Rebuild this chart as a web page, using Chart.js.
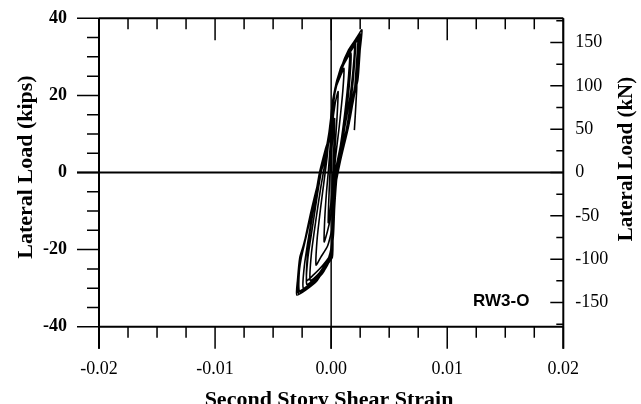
<!DOCTYPE html>
<html>
<head>
<meta charset="utf-8">
<script src="https://cdn.jsdelivr.net/npm/chart.js@4.4.1/dist/chart.umd.min.js"></script>
<style>
  html, body { margin: 0; padding: 0; background: #fff; }
  canvas { display: block; }
</style>
</head>
<body>
<canvas id="Graph" width="641" height="404"></canvas>
<script>
let canvas = document.getElementById("Graph");

// second story shear strain vs lateral load (kips)
const strain = [
  0,
  0.00005, 0.00015, 0.0003,
  0.00025, 0.00015, 0.00005, -0.0001, -0.00025,
  -0.0002, -0.0001,
  0.0, 0.0001, 0.00035, 0.0006,
  0.0005, 0.0003, 0.00015, 0.00005, -0.0003, -0.0006,
  -0.00055, -0.0004, -0.00025,
  -0.0001, 0.00005, 0.0003, 0.0008, 0.0011,
  0.001, 0.0007, 0.00035, 0.0002, 0.0001, -0.0003, -0.0009, -0.0013,
  -0.0012, -0.0009, -0.0006, -0.00035,
  -0.0001, 0.00015, 0.0006, 0.0011, 0.0016,
  0.0015, 0.0012, 0.0008, 0.00035, 0.0002, 0.0001, -0.0002, -0.001, -0.0018,
  -0.0017, -0.0013, -0.0009, -0.0005,
  -0.0002, 0.0001, 0.0005, 0.001, 0.0017,
  0.0016, 0.0013, 0.0009, 0.0005, 0.0003, 0.0002, 0.0, -0.0007, -0.0015, -0.0021,
  -0.002, -0.0016, -0.0011, -0.0006,
  -0.0001, 0.0002, 0.0009, 0.0015, 0.0021,
  0.002, 0.0018, 0.0013, 0.0006, 0.00025, 0.00015, 0.0001, -0.0005, -0.0015, -0.0024,
  -0.0023, -0.0019, -0.0014, -0.001, -0.0005,
  -0.0002, 0.0001, 0.0006, 0.0013, 0.002,
  0.0019, 0.0016, 0.001, 0.0004, 0.0002, 0.0001, -0.0003, -0.0012, -0.0021,
  -0.002, -0.0016, -0.0012, -0.0008, -0.0003,
  -0.0001, 0.0002, 0.0009, 0.0015, 0.0021, 0.00265,
  0.0025, 0.0023, 0.0019, 0.00135, 0.0005, 0.0002, 0.00015, 0.0001, -0.0005, -0.0012, -0.0022, -0.00296,
  -0.0029, -0.0027, -0.0024, -0.0017, -0.0011, -0.0008, -0.0001, 0.0002,
  0.0005, 0.0012, 0.0018, 0.0025,
  0.0024, 0.0022, 0.0017, 0.0011, 0.0004, 0.00015, 0.0001, -0.0002, -0.0009, -0.0019, -0.0028,
  -0.00285, -0.0026, -0.0021, -0.0015, -0.001, -0.0005, -0.0001, 0.0002,
  0.0008, 0.0016, 0.0024,
  0.00235, 0.0021, 0.0016, 0.0009, 0.00035, 0.0002, 0.00005, -0.0006, -0.0016, -0.0027,
  -0.00275, -0.0025, -0.0019, -0.0013, -0.0007, -0.0002, 0.0001, 0.0004, 0.0011, 0.0019, 0.0023,
  0.0022, 0.002, 0.0015, 0.0008, 0.0003, 0.00015, 0.0, -0.0004, -0.0013, -0.0023, -0.0029,
  -0.0028, -0.0023, -0.0018, -0.0012, -0.0006, -0.0002, 0.0001, 0.0005, 0.0012, 0.0018, 0.0024,
  0.00225, 0.0022, 0.002
];
const loadKips = [
  0,
  5, 10, 14,
  8, 0, -6, -10, -13,
  -7, 0,
  5, 12, 18, 21,
  14, 5, -3, -10, -15, -18,
  -12, -5, 0,
  6, 14, 21, 25, 27,
  21, 12, 3, -5, -14, -19, -22, -24,
  -17, -9, -2, 4,
  12, 19, 25, 29, 31.5,
  25, 16, 7, 0, -8, -17, -22, -26, -28,
  -21, -12, -4, 3,
  10, 17, 23, 27.5, 31,
  24, 15, 6, -1, -9, -16, -21, -24, -26.5, -28,
  -20, -11, -3, 4,
  11, 19, 27, 31, 34,
  28, 21, 11, 2, -6, -15, -21, -25, -28.5, -30,
  -24, -16, -7, 0, 6,
  9, 17, 24, 29.5, 33,
  27, 19, 9, 0, -9, -18, -23, -27, -29,
  -22, -14, -6, 1, 7,
  11, 19, 27.5, 31.8, 34.5, 37,
  32, 24, 19, 10, 1.5, -6, -15, -22, -24.5, -28, -30.5, -31.8,
  -28, -22, -19, -10.6, -2, 1.5, 10, 19,
  24, 29.5, 33, 36,
  31, 25, 17, 8, 0, -8, -18, -23, -26.5, -29.5, -31.5,
  -27, -22.5, -16, -8, -1, 5, 12, 19,
  27, 31.5, 35.5,
  30, 22, 14, 5, -2, -10, -20, -25.5, -29, -31,
  -26, -21, -13, -5, 2, 8, 15, 22, 28.5, 32.5, 34.5,
  29, 21, 12, 3, -5, -13, -21, -24, -27.5, -30, -31,
  -25, -18, -11, -3.5, 3, 9, 16, 23.5, 29, 32, 35,
  28, 21.4, 11
];

const xTicks = [-0.02, -0.01, 0, 0.01, 0.02];
const kipsTicks = [-40, -20, 0, 20, 40];
const kNTicks = [-150, -100, -50, 0, 50, 100, 150];
const kipsToKN = 4.448;
const specimen = "RW3-O";

const serif = "'Liberation Serif', 'Times New Roman', serif";

// frame, tick marks, zero lines and axis titles the way the old plot has them
const frame = {
  id: 'frame',
  beforeDatasetsDraw(chart) {
    const ctx = chart.ctx;
    const a = chart.chartArea;
    const x = chart.scales.x, y = chart.scales.y, y2 = chart.scales.y2;
    ctx.save();
    ctx.strokeStyle = '#000';
    ctx.lineWidth = 1.5;
    ctx.beginPath();
    // top and bottom x ticks, every 0.0025
    for (let k = -8; k <= 8; k++) {
      const px = x.getPixelForValue(k * 0.0025);
      const len = k % 4 === 0 ? 22 : 11;
      ctx.moveTo(px, a.bottom); ctx.lineTo(px, a.bottom + len);
      ctx.moveTo(px, a.top); ctx.lineTo(px, a.top + len);
    }
    // left ticks, every 5 kips, pointing out
    for (let k = -8; k <= 8; k++) {
      const py = y.getPixelForValue(k * 5);
      const len = k % 4 === 0 ? 22 : 12;
      ctx.moveTo(a.left - len, py); ctx.lineTo(a.left, py);
    }
    // right ticks, every 25 kN, pointing in
    for (let k = -7; k <= 7; k++) {
      const py = y2.getPixelForValue(k * 25);
      const len = k % 2 === 0 ? 13 : 7;
      ctx.moveTo(a.right - len, py); ctx.lineTo(a.right, py);
    }
    ctx.stroke();

    ctx.lineWidth = 2;
    ctx.beginPath();
    ctx.moveTo(a.left, a.top); ctx.lineTo(a.right, a.top);
    ctx.moveTo(a.left, a.bottom); ctx.lineTo(a.right, a.bottom);
    ctx.moveTo(a.left, a.top); ctx.lineTo(a.left, a.bottom + 22);
    ctx.moveTo(a.right, a.top); ctx.lineTo(a.right, a.bottom + 22);
    const y0 = y.getPixelForValue(0);
    ctx.moveTo(a.left - 22, y0); ctx.lineTo(a.right, y0);
    ctx.stroke();
    ctx.lineWidth = 1.5;
    ctx.beginPath();
    const x0 = x.getPixelForValue(0);
    ctx.moveTo(x0, a.top); ctx.lineTo(x0, a.bottom + 22);
    ctx.stroke();
    ctx.restore();
  },
  afterDraw(chart) {
    const ctx = chart.ctx;
    ctx.save();
    ctx.fillStyle = '#000';
    ctx.textAlign = 'center';
    ctx.textBaseline = 'middle';
    ctx.font = "bold 22px " + serif;
    ctx.fillText("Second Story Shear Strain", 329, 400);
    ctx.save();
    ctx.translate(26, 167);
    ctx.rotate(-Math.PI / 2);
    ctx.fillText("Lateral Load (kips)", 0, 0);
    ctx.restore();
    ctx.save();
    ctx.translate(627, 159);
    ctx.rotate(-Math.PI / 2);
    ctx.font = "bold 21px " + serif;
    ctx.fillText("Lateral Load (kN)", 0, 0);
    ctx.restore();
    ctx.textAlign = 'left';
    ctx.font = "bold 17px 'Liberation Sans', Arial, sans-serif";
    ctx.fillText(specimen, 473, 301);
    ctx.restore();
  }
};

// transparent tick marks only give the labels their offset from the frame
const hiddenGrid = (len) => ({
  display: true,
  drawOnChartArea: false,
  drawTicks: true,
  tickLength: len,
  color: 'rgba(0,0,0,0)',
});

const data = {
  datasets: [
    {
      label: 'RW3-O',
      data: strain.map((s, i) => ({ x: s, y: loadKips[i] })),
      showLine: true,
      borderColor: "#000",
      borderWidth: 1.6,
      pointRadius: 0,
      tension: 0.2,
      yAxisID: 'y',
    }
  ]
};

const config = {
  type: 'scatter',
  data: data,
  options: {
    responsive: false,
    animation: false,
    layout: { padding: { top: 18.3, left: 0, right: 0, bottom: 0 } },
    plugins: {
      legend: { display: false },
      tooltip: { enabled: false },
    },
    scales: {
      x: {
        type: 'linear',
        position: 'bottom',
        min: -0.02,
        max: 0.02,
        afterBuildTicks: (s) => { s.ticks = xTicks.map(v => ({ value: v })); },
        afterFit: (s) => { s.height = 77.3; },
        grid: hiddenGrid(32),
        border: { display: false },
        ticks: {
          padding: 0,
          maxRotation: 0,
          color: '#000',
          font: { family: serif, size: 18 },
          callback: (v) => v.toFixed(2),
        },
      },
      y: {
        type: 'linear',
        position: 'left',
        min: -40,
        max: 40,
        afterBuildTicks: (s) => { s.ticks = kipsTicks.map(v => ({ value: v })); },
        afterFit: (s) => { s.width = 99; },
        grid: hiddenGrid(32),
        border: { display: false },
        ticks: {
          padding: 0,
          color: '#000',
          font: { family: serif, size: 18, weight: 'bold' },
        },
      },
      y2: {
        type: 'linear',
        position: 'right',
        min: -40 * kipsToKN,
        max: 40 * kipsToKN,
        afterBuildTicks: (s) => { s.ticks = kNTicks.map(v => ({ value: v })); },
        afterFit: (s) => { s.width = 77.7; },
        grid: hiddenGrid(12),
        border: { display: false },
        ticks: {
          padding: 0,
          color: '#000',
          font: { family: serif, size: 18 },
        },
      },
    }
  },
  plugins: [frame],
};

const chart = new Chart(canvas, config);
</script>
</body>
</html>
